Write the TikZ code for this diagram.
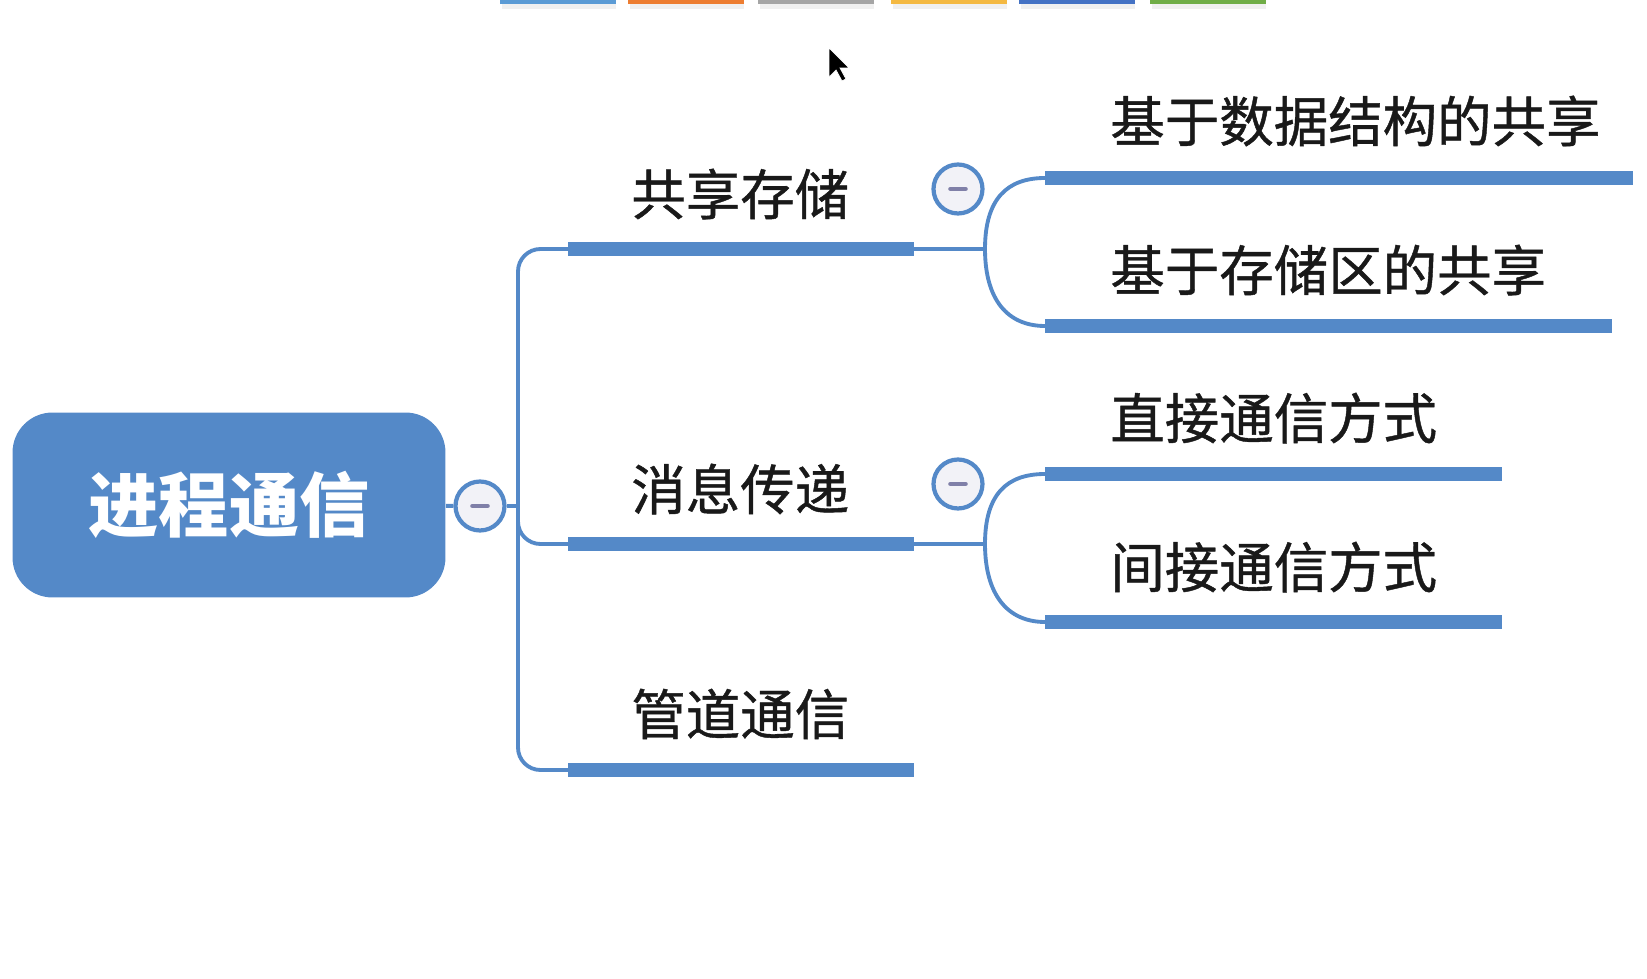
\documentclass[tikz,border=0pt]{standalone}
\usepackage{fontspec}
\newfontfamily\cjk{Noto Sans CJK SC}
\newfontfamily\cjkmed{Noto Sans CJK SC}[FakeBold=0.8]
\usepackage{xcolor}
\usepackage{tikz}
\usetikzlibrary{arrows.meta,positioning}

\definecolor{mapblue}{RGB}{84,137,200}
\definecolor{minusgray}{RGB}{128,128,168}
\definecolor{foldfill}{RGB}{242,242,247}
\definecolor{tbblue}{RGB}{91,155,213}
\definecolor{tborange}{RGB}{237,125,49}
\definecolor{tbgray}{RGB}{165,165,165}
\definecolor{tbyellow}{RGB}{244,185,66}
\definecolor{tbdarkblue}{RGB}{68,114,196}
\definecolor{tbgreen}{RGB}{112,173,71}

\begin{document}
\begin{tikzpicture}[x=0.02cm, y=-0.02cm, rootbox/.style={fill=mapblue, rounded corners=0.8cm, minimum width=8.66cm, minimum height=3.7cm, text=white, font=\cjk\bfseries\fontsize{40}{44}\selectfont}, topic/.style={anchor=west, inner sep=0pt, text=black!90, font=\cjkmed\fontsize{31}{36}\selectfont}, bar/.style={line width=8.5pt, mapblue, line cap=butt}, link/.style={line width=2.2pt, mapblue}, fold/.style={circle, draw=mapblue, line width=2.4pt, fill=foldfill, minimum size=0.98cm, inner sep=0pt, path picture={\draw[minusgray, line width=2.6pt, line cap=round] ([xshift=-0.15cm]path picture bounding box.center) -- ([xshift=0.15cm]path picture bounding box.center);}}]
\useasboundingbox (0,0) rectangle (1647,979);
% toolbar strip cut at the top
\foreach \c/\x in {tbblue/500,tborange/628,tbgray/758,tbyellow/891,tbdarkblue/1019,tbgreen/1150}{\fill[black!6] (\x+2,4) rectangle (\x+116,9); \fill[\c] (\x,-10) rectangle (\x+116,4);}
% mouse pointer
\filldraw[fill=black, draw=white, line width=0.4pt] (829,48) -- (829,77) -- (836,70) -- (842,81) -- (846,79) -- (840,68) -- (849,68) -- cycle;

\node[rootbox] (root) at (229,505) {进程通信};
\node[fold] (f0) at (480,506) {};
\coordinate (j0) at (518,506);

\node[topic] (t1) at (631,194) {共享存储};
\node[topic] (t2) at (631,489) {消息传递};
\node[topic] (t3) at (631,714) {管道通信};
\coordinate (t1a) at (568,249); \coordinate (t1b) at (914,249);
\coordinate (t2a) at (568,544); \coordinate (t2b) at (914,544);
\coordinate (t3a) at (568,770); \coordinate (t3b) at (914,770);
\node[fold] (f1) at (958,189) {};
\node[fold] (f2) at (958,484) {};
\coordinate (k1) at (985,249);
\coordinate (k2) at (985,544);

\node[topic] (s1) at (1110,121) {基于数据结构的共享};
\node[topic] (s2) at (1110,270) {基于存储区的共享};
\node[topic] (s3) at (1110,418) {直接通信方式};
\node[topic] (s4) at (1110,567) {间接通信方式};
\coordinate (s1a) at (1045,178); \coordinate (s1b) at (1633,178);
\coordinate (s2a) at (1045,326); \coordinate (s2b) at (1612,326);
\coordinate (s3a) at (1045,474); \coordinate (s3b) at (1502,474);
\coordinate (s4a) at (1045,622); \coordinate (s4b) at (1502,622);

\draw[link] (root) -- (f0);
\draw[link] (f0) -- (j0);
\draw[link, rounded corners=0.45cm] (t1a) -| (j0) |- (t3a);
\draw[link, rounded corners=0.45cm] (j0) |- (t2a);
\foreach \n in {t1,t2}{
  \draw[link] (\n b) -- (\n b -| k1);}
\draw[link] (k1) .. controls +(0,-50) and +(-38,0) .. (s1a);
\draw[link] (k1) .. controls +(0,50) and +(-38,0) .. (s2a);
\draw[link] (k2) .. controls +(0,-50) and +(-38,0) .. (s3a);
\draw[link] (k2) .. controls +(0,50) and +(-38,0) .. (s4a);
\foreach \n in {t1,t2,t3,s1,s2,s3,s4}{\draw[bar] (\n a) -- (\n b);}
\end{tikzpicture}
\end{document}
